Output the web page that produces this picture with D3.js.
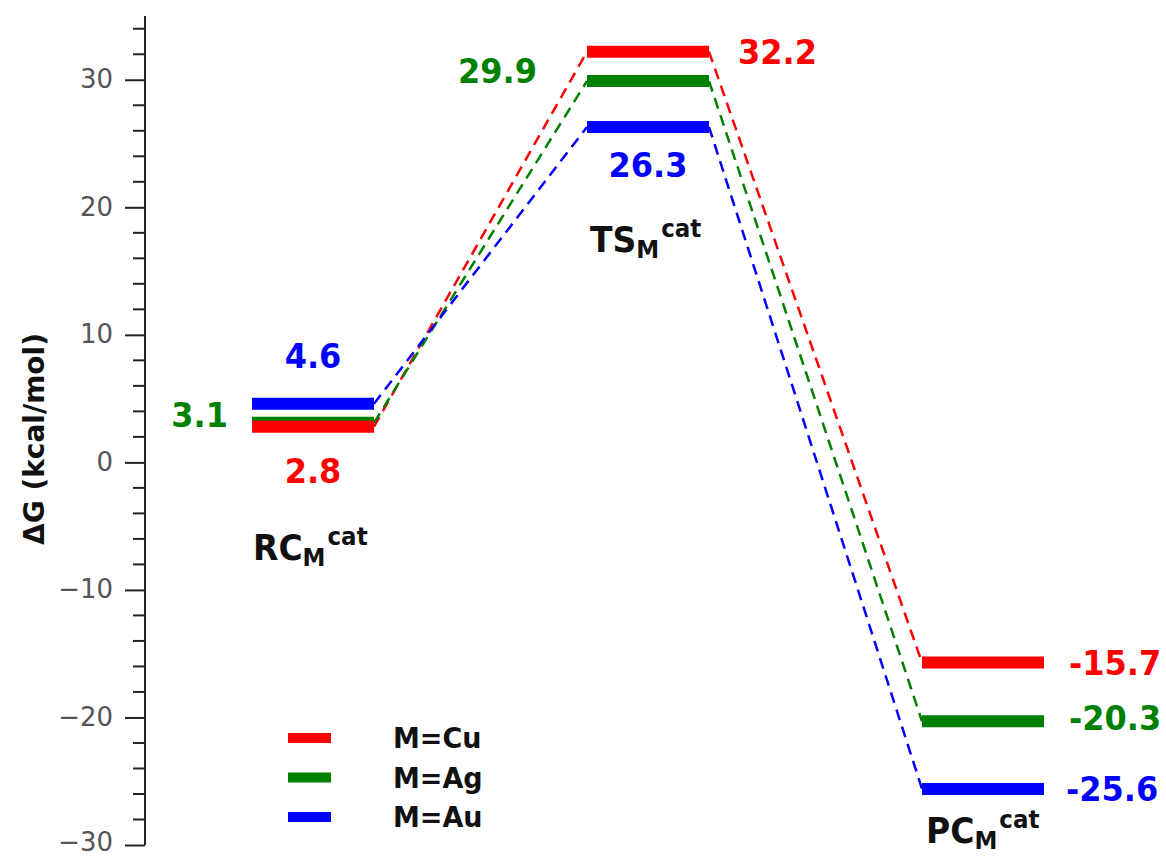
<!DOCTYPE html>
<html>
<head>
<meta charset="utf-8">
<script src="https://cdn.jsdelivr.net/npm/d3@7"></script>
<style>
  body { margin: 0; background: #fff; }
  text { font-family: "DejaVu Sans", Verdana, sans-serif; }
</style>
</head>
<body>
<script>
// Chart data
var stages = ["RC", "TS", "PC"];            // reaction stages
var series = ["M=Cu", "M=Ag", "M=Au"];      // metals
var energyCu = [2.8, 32.2, -15.7];          // ΔG values (kcal/mol)
var energyAg = [3.1, 29.9, -20.3];
var energyAu = [4.6, 26.3, -25.6];
var yTicks = [-30, -20, -10, 0, 10, 20, 30];

var energies = [energyCu, energyAg, energyAu];
var colors = ["#ff0000", "#008000", "#0000ff"];

// where each value label sits relative to its level: [place, dx, dy]
var labelPlaces = [
    [["below", 0, 56], ["right", 29, 12], ["right", 25, 12]],
    [["left", -24, 4], ["left", -50, 2], ["right", 25, 9]],
    [["above", 0, -36], ["below", 0, 50], ["right", 22, 12]]
];

var w = 1166, h = 857;
var halfLevel = 61;   // half width of each energy level
var stretch = 1.08;   // texts in the original are a little taller than wide

var svg = d3.select("body")
            .append("svg")
            .attr("width", w)
            .attr("height", h);

// scales
var x = d3.scalePoint()
          .domain(stages)
          .range([313, 983]);

var y = d3.scaleLinear()
          .domain([-30, 35])
          .range([845, 16]);

// y axis: minor ticks every 2, major every 10
var axisX = 145;
var axisG = svg.append("g").attr("transform", "translate(" + axisX + ",0)");

axisG.append("line")
     .attr("x1", 0).attr("x2", 0)
     .attr("y1", y(35)).attr("y2", y(-30))
     .attr("stroke", "#222")
     .attr("stroke-width", 2);

axisG.selectAll(".minor")
     .data(d3.range(-28, 35, 2).filter(function(d) { return d % 10 !== 0; }))
     .enter()
     .append("line")
     .attr("class", "minor")
     .attr("x1", -12).attr("x2", 0)
     .attr("y1", function(d) { return y(d); })
     .attr("y2", function(d) { return y(d); })
     .attr("stroke", "#222")
     .attr("stroke-width", 2);

var yAxis = d3.axisLeft(y)
              .tickValues(yTicks)
              .tickSize(20)
              .tickPadding(12);

var yAxisG = axisG.append("g").call(yAxis);
yAxisG.select(".domain").remove();
yAxisG.selectAll(".tick line").attr("stroke", "#222").attr("stroke-width", 2);
yAxisG.selectAll(".tick text")
      .attr("fill", "#555")
      .attr("dy", function(d) { return d === -30 ? "0.2em" : "0.3em"; }) // bottom label kept inside the page
      .style("font-size", "26px")
      .style("font-family", "'DejaVu Sans', sans-serif");

// y axis title
svg.append("text")
   .attr("transform", "translate(44,439) rotate(-90)")
   .attr("text-anchor", "middle")
   .attr("font-weight", "bold")
   .attr("font-size", 28)
   .attr("fill", "#111")
   .text("ΔG (kcal/mol)");

// dashed connectors between levels
var connectors = [];
energies.forEach(function(vals, s) {
    for (var i = 0; i < vals.length - 1; i++) {
        connectors.push({ s: s, a: i, b: i + 1, va: vals[i], vb: vals[i + 1] });
    }
});

svg.selectAll(".conn")
   .data(connectors)
   .enter()
   .append("line")
   .attr("class", "conn")
   .attr("x1", function(d) { return x(stages[d.a]) + halfLevel; })
   .attr("y1", function(d) { return y(d.va); })
   .attr("x2", function(d) { return x(stages[d.b]) - halfLevel; })
   .attr("y2", function(d) { return y(d.vb); })
   .attr("stroke", function(d) { return colors[d.s]; })
   .attr("stroke-width", 2.5)
   .attr("stroke-dasharray", "11,7");

// energy levels (blue first so red ends on top)
var levels = [];
[2, 1, 0].forEach(function(s) {
    energies[s].forEach(function(v, i) {
        levels.push({ s: s, i: i, v: v });
    });
});

svg.selectAll(".level")
   .data(levels)
   .enter()
   .append("line")
   .attr("class", "level")
   .attr("x1", function(d) { return x(stages[d.i]) - halfLevel; })
   .attr("x2", function(d) { return x(stages[d.i]) + halfLevel; })
   .attr("y1", function(d) { return y(d.v); })
   .attr("y2", function(d) { return y(d.v); })
   .attr("stroke", function(d) { return colors[d.s]; })
   .attr("stroke-width", 12);

// value labels
function labelX(d) {
    var p = labelPlaces[d.s][d.i];
    var cx = x(stages[d.i]);
    if (p[0] === "left") return cx - halfLevel + p[1];
    if (p[0] === "right") return cx + halfLevel + p[1];
    return cx + p[1];
}

svg.selectAll(".val")
   .data(levels)
   .enter()
   .append("text")
   .attr("class", "val")
   .attr("transform", function(d) {
       return "translate(" + labelX(d) + "," + (y(d.v) + labelPlaces[d.s][d.i][2]) + ") scale(1," + stretch + ")";
   })
   .attr("text-anchor", function(d) {
       var p = labelPlaces[d.s][d.i][0];
       return p === "left" ? "end" : p === "right" ? "start" : "middle";
   })
   .attr("font-weight", "bold")
   .attr("font-size", 32)
   .attr("fill", function(d) { return colors[d.s]; })
   .text(function(d) { return d.v.toFixed(1); });

// stage names with subscript M and superscript cat
var stageLabelPos = [[253, 560], [590, 252], [926, 843]];
stages.forEach(function(st, i) {
    var t = svg.append("text")
               .attr("transform", "translate(" + stageLabelPos[i][0] + "," + stageLabelPos[i][1] + ") scale(1," + stretch + ")")
               .attr("font-weight", "bold")
               .attr("fill", "#111");
    t.append("tspan").attr("font-size", 33).text(st);
    t.append("tspan").attr("font-size", 23).attr("dy", 6).text("M");
    t.append("tspan").attr("font-size", 23).attr("dx", 2).attr("dy", -20).text("cat");
});

// legend
var legend = svg.append("g").attr("transform", "translate(288,738)");
var items = legend.selectAll(".item")
                  .data(series)
                  .enter()
                  .append("g")
                  .attr("transform", function(d, i) { return "translate(0," + i * 39.5 + ")"; });

items.append("line")
     .attr("x1", 0).attr("x2", 43)
     .attr("stroke", function(d, i) { return colors[i]; })
     .attr("stroke-width", 10);

items.append("text")
     .attr("transform", "translate(105,10) scale(1," + stretch + ")")
     .attr("font-weight", "bold")
     .attr("font-size", 27)
     .attr("fill", "#111")
     .text(function(d) { return d; });
</script>
</body>
</html>
